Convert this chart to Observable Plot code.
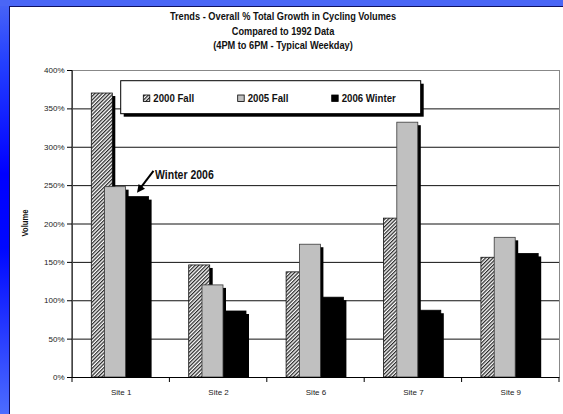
<!DOCTYPE html>
<html>
<head>
<meta charset="utf-8">
<script src="https://cdn.jsdelivr.net/npm/d3@7"></script>
<script src="https://cdn.jsdelivr.net/npm/@observablehq/plot@0.6"></script>
<style>
  html, body { margin: 0; padding: 0; background: #0000ff; }
  body { width: 563px; height: 414px; overflow: hidden; position: relative;
    font-family: "Liberation Sans", Arial, sans-serif; }
  #chart svg { position: absolute; left: 0; top: 0; display: block; }
</style>
</head>
<body>
<div id="chart"></div>
<script>
// ---- data ----
const sites = ["Site 1", "Site 2", "Site 6", "Site 7", "Site 9"];
const seriesNames = ["2000 Fall", "2005 Fall", "2006 Winter"];
const fall2000 = [370, 146, 137, 207, 156];
const fall2005 = [248, 120, 173, 332, 182];
const winter2006 = [235, 86, 104, 87, 161];
const yTicks = [0, 50, 100, 150, 200, 250, 300, 350, 400];
const titleLines = [
  "Trends - Overall % Total Growth in Cycling Volumes",
  "Compared to 1992 Data",
  "(4PM to 6PM - Typical Weekday)"
];
const yLabel = "Volume";
const annoText = "Winter 2006";
const annoSite = "Site 1";
const annoValue = 240;

// ---- table ----
const seriesValues = [fall2000, fall2005, winter2006];
const rows = sites.flatMap((site, i) =>
  seriesNames.map((series, k) => ({site, series, value: seriesValues[k][i]})));

// ---- styles ----
const FONT = '"Liberation Sans", Arial, sans-serif';
const NARROW = 0.84; // horizontal condensing to mimic Arial Narrow
const W = 563, H = 414;
const mL = 72, mR = 4, mT = 70, mB = 37;
const bw = (W - mL - mR) / sites.length;
const barW = 21;
const styles = {
  "2000 Fall":   {fill: "url(#hatch)", stroke: "#111", offset: 19.3},
  "2005 Fall":   {fill: "#c0c0c0", stroke: "#3a3a3a", offset: 32.6},
  "2006 Winter": {fill: "#000", stroke: "#000", offset: 55.6}
};

const barMarks = seriesNames.flatMap(s => {
  const st = styles[s];
  const data = rows.filter(r => r.series === s);
  const inset = {insetLeft: st.offset, insetRight: bw - st.offset - barW};
  return [
    Plot.barY(data, {x: "site", y: "value", fill: "#000", dx: 3, insetTop: 3, ...inset}),
    Plot.barY(data, {x: "site", y: "value", fill: st.fill, stroke: st.stroke, strokeWidth: 0.8, ...inset})
  ];
});

const plot = Plot.plot({
  width: W, height: H,
  marginLeft: mL, marginRight: mR, marginTop: mT, marginBottom: mB,
  style: {fontFamily: FONT, background: "transparent", color: "#222"},
  x: {type: "band", domain: sites, padding: 0, round: false},
  y: {domain: [0, 400]},
  marks: [
    Plot.gridY(yTicks.filter(t => t > 0 && t < 400), {stroke: "#111", strokeOpacity: 1, strokeWidth: 1}),
    Plot.frame({stroke: "#888"}),
    ...barMarks,
    Plot.ruleY([0], {stroke: "#000"}),
    Plot.axisY({ticks: yTicks, tickFormat: d => d + "%", tickSize: 5, tickPadding: 3, fontSize: 8, label: null, stroke: "#000"}),
    Plot.axisX({tickSize: 0, tickPadding: 12, fontSize: 8, label: null})
  ]
});

document.getElementById("chart").appendChild(plot);
const svg = d3.select(plot);
const xs = plot.scale("x"), ys = plot.scale("y");

// defs: hatch pattern + blue gradient
const defs = svg.insert("defs", ":first-child");
const pat = defs.append("pattern").attr("id", "hatch").attr("patternUnits", "userSpaceOnUse")
  .attr("width", 2.6).attr("height", 2.6).attr("patternTransform", "rotate(45)");
pat.append("rect").attr("width", 2.6).attr("height", 2.6).attr("fill", "#fff");
pat.append("line").attr("x1", 0.6).attr("y1", 0).attr("x2", 0.6).attr("y2", 2.6)
  .attr("stroke", "#2a2a2a").attr("stroke-width", 1.3);
const grad = defs.append("linearGradient").attr("id", "bluebg").attr("gradientUnits", "userSpaceOnUse")
  .attr("x1", 0).attr("y1", 0).attr("x2", 0).attr("y2", H);
[[0, "#4a66f6"], [0.15, "#2440ff"], [0.42, "#0000ff"], [0.6, "#0008ff"], [1, "#4c6cff"]]
  .forEach(([o, c]) => grad.append("stop").attr("offset", o).attr("stop-color", c));

// background: blue frame with white panel
const bg = svg.insert("g", "defs + *");
bg.append("rect").attr("x", 0).attr("y", 0).attr("width", W).attr("height", H).attr("fill", "url(#bluebg)");
bg.append("rect").attr("x", 0).attr("y", 0).attr("width", W).attr("height", 6).attr("fill", "#4a66f6");
bg.append("rect").attr("x", 9).attr("y", 6).attr("width", W).attr("height", H).attr("fill", "#101060");
bg.append("rect").attr("x", 10).attr("y", 7).attr("width", W).attr("height", H).attr("fill", "#fff");

// axis line & category boundary ticks
const x0 = xs.apply(sites[0]);
const yBase = ys.apply(0), yTop = ys.apply(400);
svg.append("line").attr("x1", x0).attr("x2", x0).attr("y1", yTop).attr("y2", yBase).attr("stroke", "#000");
for (let i = 0; i <= sites.length; i++) {
  const xx = x0 + i * xs.bandwidth;
  svg.append("line").attr("x1", xx).attr("x2", xx).attr("y1", yBase).attr("y2", yBase + 5).attr("stroke", "#000");
}

// helper: condensed text
function ntext(parent, x, y, str, size, anchor) {
  return parent.append("g").attr("transform", `translate(${x},${y}) scale(${NARROW},1)`)
    .append("text").attr("x", 0).attr("y", 0).attr("text-anchor", anchor || "start")
    .attr("font-size", size).attr("font-weight", "bold").attr("fill", "#111").text(str);
}

// title
titleLines.forEach((t, i) => ntext(svg, 283, 20 + i * 14.5, t, 11, "middle"));

// y label
svg.append("g").attr("transform", "translate(28,223) rotate(-90) scale(0.9,1)")
  .append("text").attr("text-anchor", "middle").attr("font-size", 8.5).attr("font-weight", "bold")
  .attr("fill", "#111").text(yLabel);

// legend
const lg = svg.append("g");
lg.append("rect").attr("x", 123.7).attr("y", 83.7).attr("width", 300).attr("height", 33).attr("fill", "#000");
lg.append("rect").attr("x", 120.7).attr("y", 80.7).attr("width", 300).attr("height", 33).attr("fill", "#fff").attr("stroke", "#000");
const swX = [143.3, 237.7, 331.7];
seriesNames.forEach((s, k) => {
  lg.append("rect").attr("x", swX[k]).attr("y", 95).attr("width", 6.5).attr("height", 6.5)
    .attr("fill", styles[s].fill).attr("stroke", "#000").attr("stroke-width", 0.8);
  ntext(lg, swX[k] + 10, 102, s, 11.5, "start");
});

// annotation
const tipX = xs.apply(annoSite) + 65, tipY = ys.apply(annoValue);
const startX = tipX + 16.5, startY = tipY - 22;
svg.append("line").attr("x1", startX).attr("y1", startY).attr("x2", tipX + 2).attr("y2", tipY - 3)
  .attr("stroke", "#000").attr("stroke-width", 2);
const ang = Math.atan2(tipY - startY, tipX - startX);
const ah = 8, aw = 4;
const bx = tipX - ah * Math.cos(ang), by = tipY - ah * Math.sin(ang);
svg.append("path").attr("d",
  `M${tipX},${tipY}L${bx + aw * Math.sin(ang)},${by - aw * Math.cos(ang)}L${bx - aw * Math.sin(ang)},${by + aw * Math.cos(ang)}Z`)
  .attr("fill", "#000");
ntext(svg, startX + 1.5, startY + 8.5, annoText, 12.5, "start");
</script>
</body>
</html>
